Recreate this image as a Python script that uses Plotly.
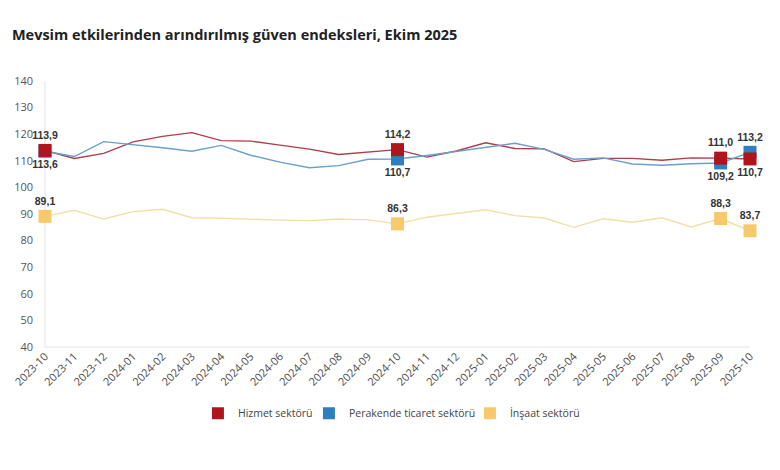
import plotly.graph_objects as go

months = ["2023-10", "2023-11", "2023-12", "2024-01", "2024-02", "2024-03", "2024-04",
          "2024-05", "2024-06", "2024-07", "2024-08", "2024-09", "2024-10", "2024-11",
          "2024-12", "2025-01", "2025-02", "2025-03", "2025-04", "2025-05", "2025-06",
          "2025-07", "2025-08", "2025-09", "2025-10"]

hizmet = [113.9, 110.9, 112.8, 117.1, 119.2, 120.6, 117.6, 117.4, 115.9, 114.4, 112.4,
          113.2, 114.2, 111.4, 113.7, 116.8, 114.6, 114.5, 109.7, 110.9, 110.9, 110.2,
          111.1, 111.0, 110.7]
perakende = [113.6, 111.6, 117.2, 116.1, 114.9, 113.6, 115.8, 112.1, 109.5, 107.4, 108.2,
             110.6, 110.7, 112.0, 113.6, 115.2, 116.6, 114.3, 110.6, 111.1, 108.8, 108.3,
             108.9, 109.2, 113.2]
insaat = [89.1, 91.4, 88.1, 90.9, 91.8, 88.6, 88.4, 88.0, 87.7, 87.5, 88.1, 87.8, 86.3,
          88.8, 90.1, 91.6, 89.4, 88.5, 85.0, 88.2, 86.9, 88.6, 85.1, 88.3, 83.7]

# points that carry a marker and a value label, with label side
hizmet_marks = {0: "top center", 12: "top center", 23: "top center", 24: "bottom center"}
perakende_marks = {0: "bottom center", 12: "bottom center", 23: "bottom center", 24: "top center"}
insaat_marks = {0: "top center", 12: "top center", 23: "top center", 24: "top center"}

names = ["Hizmet sektörü", "Perakende ticaret sektörü", "İnşaat sektörü"]
line_colors = ["#ad3f4c", "#6aa0cc", "#f1e0a6"]
mark_colors = ["#b0141d", "#2f7fc0", "#f6ca6c"]
legend_widths = [66, 116, 80]


def fmt(v):
    return "<b>" + f"{v:.1f}".replace(".", ",") + "</b>"


fig = go.Figure()

series = [(hizmet, hizmet_marks), (perakende, perakende_marks), (insaat, insaat_marks)]

# lines
for (vals, _), name, lc in zip(series, names, line_colors):
    fig.add_trace(go.Scatter(x=months, y=vals, mode="lines", name=name,
                             line=dict(color=lc, width=1.4), showlegend=False,
                             hoverinfo="skip"))

# markers: yellow, blue, then red so red sits on top
for k in [2, 1, 0]:
    vals, marks = series[k]
    idx = sorted(marks)
    fig.add_trace(go.Scatter(
        x=[months[i] for i in idx], y=[vals[i] for i in idx],
        mode="markers+text", name=names[k],
        marker=dict(symbol="square", size=13, color=mark_colors[k]),
        text=[fmt(vals[i]) for i in idx],
        textposition=[marks[i] for i in idx],
        textfont=dict(family="Liberation Sans", size=10.5, color="#333333"),
        cliponaxis=False, legendrank=k + 1, legendwidth=legend_widths[k],
    ))

fig.update_layout(
    width=780, height=470,
    paper_bgcolor="white", plot_bgcolor="white",
    margin=dict(l=37, r=38, t=73, b=131),
    font=dict(family="Open Sans", size=11, color="#555555"),
    title=dict(text="<b>Mevsim etkilerinden arındırılmış güven endeksleri, Ekim 2025</b>",
               x=0.005, xanchor="left", y=0.943, yanchor="middle", pad=dict(l=0, t=0),
               font=dict(family="Open Sans", size=14.5, color="#222222")),
    legend=dict(orientation="h", x=0.498, xanchor="center", xref="container",
                y=0.138, yanchor="middle", yref="container",
                font=dict(size=10.5, color="#444444"), itemsizing="constant",
                itemwidth=30, traceorder="normal"),
    showlegend=True,
)
fig.update_xaxes(type="category", range=[0, len(months) - 1], tickangle=-45,
                 showgrid=False, showline=False, zeroline=False, automargin=False,
                 tickfont=dict(size=11, color="#4a4a4a"))
fig.update_yaxes(range=[40, 140], dtick=10, showgrid=False, zeroline=False,
                 showline=False, ticks="", ticklabelstandoff=11, automargin=False,
                 tickfont=dict(size=11, color="#555555"))
# thin axis lines: left vertical and bottom horizontal
fig.add_shape(type="line", xref="paper", yref="paper", x0=0, x1=0, y0=0, y1=1,
              line=dict(color="#e3e3e3", width=1), layer="below")
fig.add_shape(type="line", xref="paper", yref="paper", x0=0, x1=1, y0=0, y1=0,
              line=dict(color="#e3e3e3", width=1), layer="below")

fig.write_html("out.html")
